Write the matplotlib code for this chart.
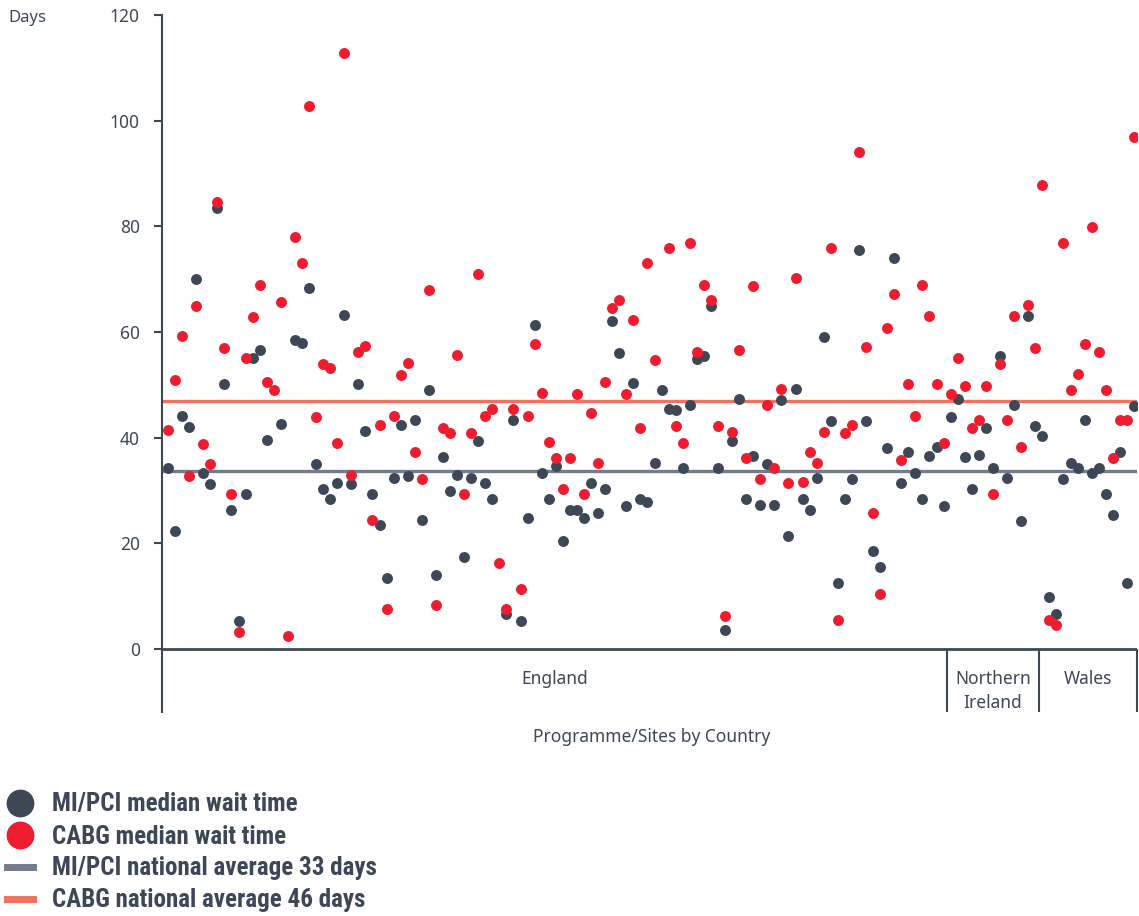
import numpy as np
import matplotlib
matplotlib.use("Agg")
import matplotlib.pyplot as plt
from matplotlib.lines import Line2D

# site order along the x axis: England (111), Northern Ireland (13), Wales (14)
countries = ["England", "Northern\nIreland", "Wales"]
sites_per_country = [111, 13, 14]

mi_pci = [
    34.2, 22.3, 44.2, 42.0, 70.0, 33.3, 31.2, 83.4, 50.2, 26.3,
    5.3, 29.3, 55.0, 56.6, 39.6, np.nan, 42.6, np.nan, 58.5, 58.0,
    68.4, 35.0, 30.3, 28.4, 31.4, 63.2, 31.3, 50.2, 41.2, 29.4,
    23.5, 13.4, 32.3, 42.4, 32.8, 43.3, 24.4, 49.0, 14.0, 36.4,
    29.9, 32.9, 17.5, 32.4, 39.4, 31.4, 28.4, np.nan, 6.6, 43.3,
    5.3, 24.8, 61.3, 33.3, 28.4, 34.7, 20.5, 26.4, 26.4, 24.8,
    31.4, 25.8, 30.3, 62.0, 56.0, 27.0, 50.4, 28.4, 27.8, 35.2,
    49.0, 45.4, 45.2, 34.3, 46.2, 54.9, 55.5, 65.0, 34.3, 3.6,
    39.4, 47.3, 28.4, 36.5, 27.2, 35.0, 27.2, 47.2, 21.4, 49.2,
    28.4, 26.3, 32.4, 59.0, 43.2, 12.5, 28.4, 32.2, 75.5, 43.2,
    18.5, 15.5, 38.0, 74.0, 31.4, 37.3, 33.3, 28.4, 36.5, 38.2,
    27.1,
    43.9, 47.3, 36.4, 30.3, 36.7, 41.8, 34.3, 55.5, 32.4, 46.2,
    24.3, 63.0, 42.2,
    40.3, 9.8, 6.6, 32.2, 35.2, 34.3, 43.3, 33.3, 34.3, 29.4,
    25.4, 37.3, 12.5, 46.0,
]

cabg = [
    41.5, 51.0, 59.3, 32.8, 65.0, 38.8, 35.0, 84.7, 57.0, 29.3,
    3.3, 55.0, 62.9, 68.9, 50.5, 49.0, 65.7, 2.5, 78.0, 73.0,
    102.8, 44.0, 54.0, 53.2, 39.0, 112.9, 33.0, 56.2, 57.3, 24.4,
    42.4, 7.5, 44.1, 51.8, 54.2, 37.3, 32.1, 68.0, 8.3, 41.8,
    40.9, 55.7, 29.4, 40.9, 71.0, 44.1, 45.4, 16.3, 7.6, 45.4,
    11.3, 44.1, 57.7, 48.5, 39.2, 36.2, 30.3, 36.2, 48.3, 29.4,
    44.7, 35.2, 50.5, 64.5, 66.0, 48.3, 62.2, 41.8, 73.0, 54.8,
    np.nan, 76.0, 42.2, 39.0, 76.9, 56.2, 68.9, 66.0, 42.2, 6.2,
    41.1, 56.6, 36.2, 68.7, 32.2, 46.2, 34.3, 49.2, 31.4, 70.2,
    31.6, 37.3, 35.2, 41.1, 76.0, 5.5, 40.9, 42.4, 94.0, 57.2,
    25.7, 10.4, 60.8, 67.2, 35.8, 50.2, 44.1, 68.9, 63.0, 50.2,
    39.0,
    48.3, 55.0, 49.8, 41.8, 43.3, 49.8, 29.4, 54.0, 43.3, 63.0,
    38.3, 65.1, 57.0,
    87.9, 5.5, 4.6, 76.9, 49.1, 52.1, 57.8, 79.8, 56.3, 49.1,
    36.2, 43.3, 43.3, 97.0,
]

mi_pci_avg = 33.8
cabg_avg = 46.9
yticks = [0, 20, 40, 60, 80, 100, 120]

dark = "#3d4756"
red = "#ed1c2e"
avg_grey = "#737b8c"
avg_orange = "#f47060"

W, H = 1139, 916
fig = plt.figure(figsize=(W / 100, H / 100), dpi=100)
plt.rcParams["font.family"] = ["Noto Sans", "DejaVu Sans"]

ax = fig.add_axes([162 / W, 1 - 712 / H, (1137 - 162) / W, (712 - 15) / H])

x = np.arange(len(mi_pci))
ymin = -11.9
x_left, x_right = -0.85, len(mi_pci) - 1 + 0.43

ax.axhline(mi_pci_avg, color=avg_grey, lw=2.4, zorder=1)
ax.axhline(cabg_avg, color=avg_orange, lw=2.4, zorder=1)
ax.scatter(x, mi_pci, s=62, color=dark, linewidths=0, zorder=3)
ax.scatter(x, cabg, s=62, color=red, linewidths=0, zorder=4)

# zero line and country separators under the plot
ax.axhline(0, color=dark, lw=2, zorder=2)
edges = np.cumsum(sites_per_country) - 0.5
edges[-1] = x_right
ax.vlines(edges, ymin, 0, color=dark, lw=1.5, clip_on=False)
starts = np.concatenate([[x_left], edges[:-1]])
for name, a, b in zip(countries, starts, edges):
    ax.text((a + b) / 2, -4.0, name, ha="center", va="top", fontsize=12.5,
            color=dark, linespacing=1.4)

ax.set_xlim(x_left, x_right)
ax.set_ylim(ymin, 120)
ax.set_xticks([])
ax.set_yticks(yticks)
ax.tick_params(axis="y", length=6, width=1.5, color=dark, labelcolor=dark,
               labelsize=12.5, pad=10)
for side in ["top", "right", "bottom"]:
    ax.spines[side].set_visible(False)
ax.spines["left"].set_color(dark)
ax.spines["left"].set_linewidth(1.5)

fig.text(8 / W, 1 - 18 / H, "Days", ha="left", va="center", fontsize=12, color=dark)
fig.text(652 / W, 1 - 737 / H, "Programme/Sites by Country", ha="center",
         va="center", fontsize=12.5, color=dark)

handles = [
    Line2D([], [], marker="o", ls="", color=dark, markersize=19),
    Line2D([], [], marker="o", ls="", color=red, markersize=19),
    Line2D([], [], color=avg_grey, lw=5),
    Line2D([], [], color=avg_orange, lw=5),
]
labels = ["MI/PCI median wait time", "CABG median wait time",
          "MI/PCI national average 33 days", "CABG national average 46 days"]
fig.legend(handles, labels, loc="upper left", bbox_to_anchor=(0.0, 1 - 785 / H),
           frameon=False, handlelength=1.0, handletextpad=0.8, labelspacing=0.32,
           borderpad=0.3, borderaxespad=0, labelcolor=dark,
           prop={"family": ["Roboto Condensed", "Roboto", "DejaVu Sans"],
                 "weight": "bold", "size": 18})

fig.savefig("out.png", dpi=100)
